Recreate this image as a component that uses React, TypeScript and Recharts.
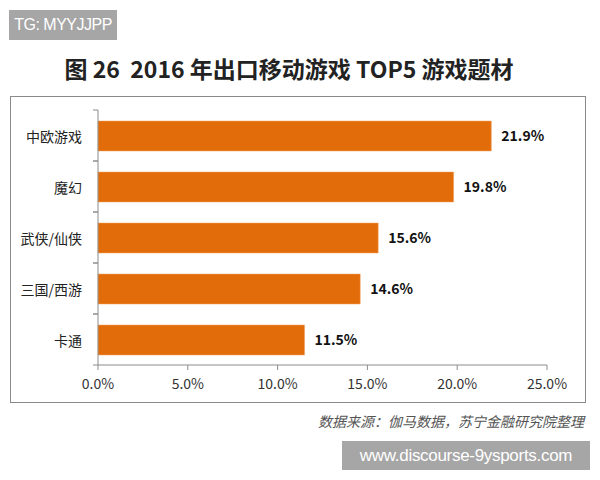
import React from "react";
import { BarChart, Bar, XAxis, YAxis, LabelList } from "recharts";

const categories = ["中欧游戏", "魔幻", "武侠/仙侠", "三国/西游", "卡通"];
const shares = [21.9, 19.8, 15.6, 14.6, 11.5];
const xTicks = [0, 5, 10, 15, 20, 25];

const titleText = "图 26  2016 年出口移动游戏 TOP5 游戏题材";
const sourceText = "数据来源：伽马数据，苏宁金融研究院整理";
const topMark = "TG: MYYJJPP";
const bottomMark = "www.discourse-9ysports.com";

const data = categories.map((name, i) => ({ name, value: shares[i] }));

const CJK = '"Noto Sans CJK SC", "Noto Sans", sans-serif';

const CategoryTick = (props: any) => {
  const { x, y, payload } = props;
  const half = payload && typeof payload.offset === "number" && payload.offset > 0 ? payload.offset : 25.5;
  const axisX = x + 16;
  return (
    <g>
      <line x1={axisX - 5} x2={axisX} y1={y - half} y2={y - half} stroke="#8c8c8c" strokeWidth={1} />
      <line x1={axisX - 5} x2={axisX} y1={y + half} y2={y + half} stroke="#8c8c8c" strokeWidth={1} />
      <text x={x} y={y} textAnchor="end" dominantBaseline="central" fontSize={14} fill="#222" fontFamily={CJK}>
        {payload.value}
      </text>
    </g>
  );
};

export default function App() {
  return (
    <div style={{ position: "absolute", left: 0, top: 0, width: 600, height: 480, background: "#fff", overflow: "hidden" }}>
      <div
        style={{
          position: "absolute", left: 9, top: 10, width: 108, height: 30, background: "#a6a6a6",
          color: "#fff", fontFamily: '"Liberation Sans", Arial, sans-serif', fontSize: 16,
          lineHeight: "30px", textAlign: "center", letterSpacing: -0.5,
        }}
      >
        {topMark}
      </div>
      <div
        style={{
          position: "absolute", left: 0, top: 52, width: 578, textAlign: "center", fontFamily: CJK,
          fontWeight: 700, fontSize: 23, color: "#222", whiteSpace: "pre", lineHeight: "32px",
        }}
      >
        {titleText}
      </div>
      <div
        style={{
          position: "absolute", left: 10, top: 96, width: 576, height: 307, border: "1.5px solid #8a8a8a",
          boxSizing: "border-box",
        }}
      />
      <div style={{ position: "absolute", left: 0, top: 0 }}>
        <BarChart
          width={600}
          height={480}
          data={data}
          layout="vertical"
          margin={{ top: 110, right: 53, bottom: 75, left: 10 }}
          barSize={30}
        >
          <XAxis
            type="number"
            domain={[0, 25]}
            ticks={xTicks}
            tickFormatter={(v: number) => `${v.toFixed(1)}%`}
            axisLine={{ stroke: "#8c8c8c" }}
            tickLine={{ stroke: "#8c8c8c" }}
            tickSize={5}
            tickMargin={9}
            tick={{ fontSize: 14, fill: "#333", fontFamily: CJK }}
            height={40}
          />
          <YAxis
            type="category"
            dataKey="name"
            width={88}
            axisLine={{ stroke: "#8c8c8c" }}
            tickLine={false}
            tick={<CategoryTick />}
            tickSize={0}
            tickMargin={16}
          />
          <Bar dataKey="value" fill="#e36c0a" stroke="#f0a060" strokeWidth={0.5} isAnimationActive={false}>
            <LabelList
              dataKey="value"
              position="right"
              offset={10}
              formatter={(v: any) => `${Number(v).toFixed(1)}%`}
              style={{ fontSize: 14, fontWeight: 700, fill: "#111", fontFamily: CJK }}
            />
          </Bar>
        </BarChart>
      </div>
      <div
        style={{
          position: "absolute", right: 16, top: 410, fontFamily: CJK, fontStyle: "italic", fontSize: 14,
          color: "#555", whiteSpace: "nowrap", lineHeight: "22px",
        }}
      >
        {sourceText}
      </div>
      <div
        style={{
          position: "absolute", left: 342, top: 441, width: 248, height: 29, background: "#a6a6a6",
          color: "#fff", fontFamily: '"Liberation Sans", Arial, sans-serif', fontSize: 17,
          lineHeight: "29px", textAlign: "center", letterSpacing: -0.3,
        }}
      >
        {bottomMark}
      </div>
    </div>
  );
}
